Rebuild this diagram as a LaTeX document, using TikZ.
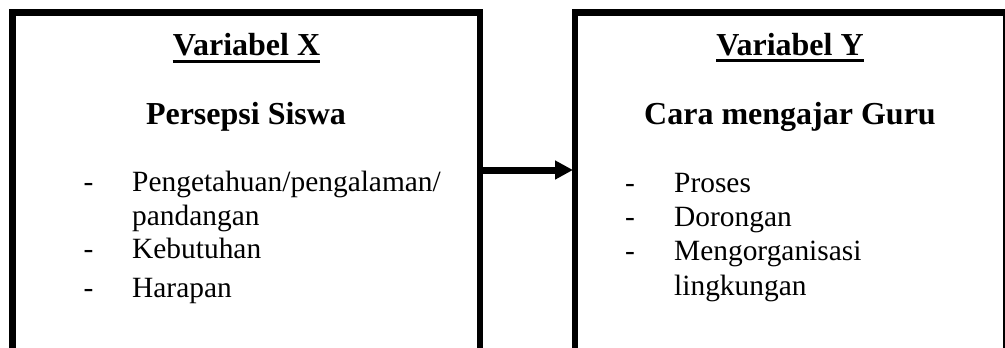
\documentclass[tikz,border=0pt]{standalone}
\usepackage{fontspec}
\setmainfont{Liberation Serif}
\usetikzlibrary{arrows.meta}
\begin{document}
\begin{tikzpicture}[x=1pt,y=-1pt,
  frame/.style={draw=black,line width=6.7pt,inner sep=0pt,outer sep=0pt,anchor=north west},
  head/.style={inner sep=0pt,anchor=base,font=\fontsize{32}{38}\selectfont\bfseries},
  itemtext/.style={inner sep=0pt,anchor=base west,font=\fontsize{29.4}{34}\selectfont},
  dashmark/.style={inner sep=0pt,anchor=base,font=\fontsize{29.4}{34}\selectfont},
  uline/.style={line width=3.3pt},
  conn/.style={line width=7pt,-{Triangle[length=18pt,width=18pt]}}]
\useasboundingbox (0,0) rectangle (1005,348);
\clip (0,0) rectangle (1005,348);
\node[frame,minimum width=467.5pt,minimum height=420pt] (bx) at (12.5,12.7) {};
\node[frame,minimum width=431pt,minimum height=420pt] (by) at (575,12.7) {};
% left box text
\node[head] (hx) at (246.5,56) {Variabel X};
\draw[uline] ([yshift=-5.3pt]hx.base west) -- ([yshift=-5.3pt]hx.base east);
\node[head] (tx) at (246,124) {Persepsi Siswa};
\node[dashmark] (dx1) at (88.5,191) {-};
\node[itemtext] (ix1) at (132,191) {Pengetahuan/pengalaman/};
\node[itemtext] (ix2) at (132,225) {pandangan};
\node[dashmark] (dx2) at (88.5,258) {-};
\node[itemtext] (ix3) at (132,258) {Kebutuhan};
\node[dashmark] (dx3) at (88.5,297) {-};
\node[itemtext] (ix4) at (132,297) {Harapan};
% right box text
\node[head] (hy) at (790,55.5) {Variabel Y};
\draw[uline] ([yshift=-5.3pt]hy.base west) -- ([yshift=-5.3pt]hy.base east);
\node[head] (ty) at (790,124) {Cara mengajar Guru};
\node[dashmark] (dy1) at (630,192) {-};
\node[itemtext] (iy1) at (674,192) {Proses};
\node[dashmark] (dy2) at (630,226) {-};
\node[itemtext] (iy2) at (674,226) {Dorongan};
\node[dashmark] (dy3) at (630,260) {-};
\node[itemtext] (iy3) at (674,260) {Mengorganisasi};
\node[itemtext] (iy4) at (674,295) {lingkungan};
% connector
\coordinate (ay) at (0,170);
\draw[conn,shorten >=2pt] (bx.east |- ay) -- (by.west |- ay);
\end{tikzpicture}
\end{document}
